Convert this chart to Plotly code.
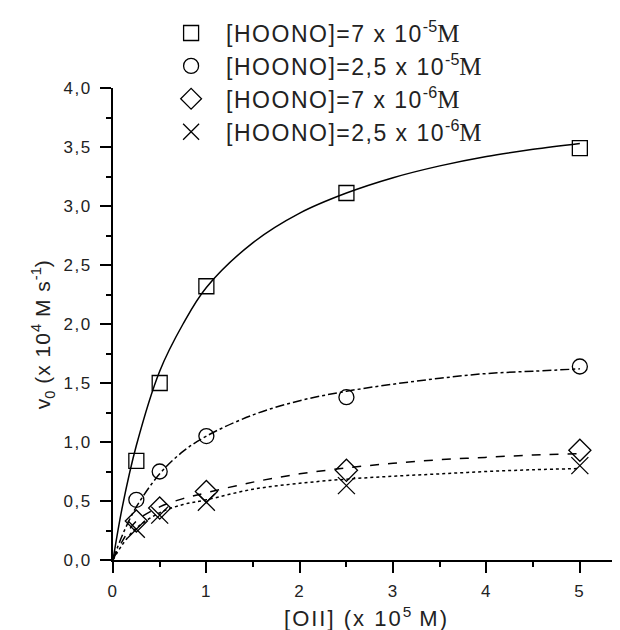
import plotly.graph_objects as go

# measured data points
x_pts = [0.25, 0.5, 1.0, 2.5, 5.0]
v_sq = [0.84, 1.50, 2.32, 3.11, 3.49]      # [HOONO]=7e-5 M
v_ci = [0.51, 0.75, 1.05, 1.38, 1.64]      # [HOONO]=2.5e-5 M
v_di = [0.33, 0.44, 0.58, 0.76, 0.93]      # [HOONO]=7e-6 M
v_x = [0.26, 0.38, 0.49, 0.63, 0.80]       # [HOONO]=2.5e-6 M

# fitted curves, values
x_fit = [0, 0.1, 0.25, 0.5, 0.75, 1.0, 1.5, 2.0, 2.5, 3.0, 3.5, 4.0, 4.5, 5.0]
fit_sq = [0, 0.45, 0.97, 1.60, 2.00, 2.31, 2.69, 2.94, 3.11, 3.24, 3.34, 3.42, 3.48, 3.53]
fit_ci = [0, 0.21, 0.45, 0.73, 0.92, 1.05, 1.23, 1.35, 1.43, 1.49, 1.54, 1.58, 1.60, 1.62]
fit_di = [0, 0.16, 0.33, 0.45, 0.52, 0.57, 0.66, 0.73, 0.78, 0.82, 0.85, 0.87, 0.89, 0.90]
fit_x = [0, 0.13, 0.27, 0.40, 0.47, 0.51, 0.60, 0.65, 0.685, 0.71, 0.73, 0.75, 0.765, 0.775]

x_ticks = [0, 1, 2, 3, 4, 5]
x_ticklabels = ["0", "1", "2", "3", "4", "5"]
y_ticks = [0, 0.5, 1, 1.5, 2, 2.5, 3, 3.5, 4]
y_ticklabels = ["0,0", "0,5", "1,0", "1,5", "2,0", "2,5", "3,0", "3,5", "4,0"]


def sp(t, px):
    return "<span style='letter-spacing:%spx'>%s</span>" % (px, t)


M = "<span style='font-family:Liberation Serif;font-size:25px'>M</span>"
names = [
    sp("[HOONO]=7 x 10", 1.5) + "<sup>-5</sup>" + M,
    sp("[HOONO]=2,5 x 10", 1.5) + "<sup>-5</sup>" + M,
    sp("[HOONO]=7 x 10", 1.5) + "<sup>-6</sup>" + M,
    sp("[HOONO]=2,5 x 10", 1.5) + "<sup>-6</sup>" + M,
]
symbols = ["square-open", "circle-open", "diamond-open", "x-thin-open"]
sizes = [15, 15, 17, 17]
dashes = ["solid", "dashdot", "dash", "dot"]
pts = [v_sq, v_ci, v_di, v_x]
fits = [fit_sq, fit_ci, fit_di, fit_x]

fig = go.Figure()
for f, d in zip(fits, dashes):
    fig.add_trace(go.Scatter(x=x_fit, y=f, mode="lines", line_shape="spline",
                             line=dict(color="black", width=1.5, dash=d),
                             showlegend=False, hoverinfo="skip"))
for p, s, sz, n in zip(pts, symbols, sizes, names):
    fig.add_trace(go.Scatter(x=x_pts, y=p, mode="markers", name=n,
                             marker=dict(symbol=s, size=sz, color="black",
                                         line=dict(color="black", width=1.3))))

axis_common = dict(showline=True, linecolor="black", linewidth=2, ticks="outside",
                   tickcolor="black", tickwidth=2, ticklen=11, showgrid=False,
                   zeroline=False, mirror=False, automargin=False,
                   tickfont=dict(family="Liberation Sans", size=17, color="#222"))

fig.update_xaxes(range=[0, 5.43], tickvals=x_ticks,
                 ticktext=[sp(t, 1.5) for t in x_ticklabels],
                 ticklabelstandoff=4,
                 minor=dict(tickvals=[0.5, 1.5, 2.5, 3.5, 4.5], ticklen=5, tickwidth=2,
                            tickcolor="black", ticks="outside"),
                 title=dict(text=sp("[OII] (x 10", 2) + "<sup>5</sup>" + sp(" M)", 2),
                            standoff=10,
                            font=dict(family="Liberation Sans", size=22, color="#222")),
                 **axis_common)
fig.update_yaxes(range=[0, 4.0], tickvals=y_ticks,
                 ticktext=[sp(t, 1.5) for t in y_ticklabels],
                 ticklabelstandoff=5,
                 minor=dict(tickvals=[0.25, 0.75, 1.25, 1.75, 2.25, 2.75, 3.25, 3.75],
                            ticklen=5, tickwidth=2, tickcolor="black", ticks="outside"),
                 title=dict(text="v<sub>0</sub>" + sp(" (x 10", 1) + "<sup>4</sup>"
                                 + sp(" M s", 1) + "<sup>-1</sup>" + sp(")\u00a0\u00a0\u00a0", 1),
                            standoff=7,
                            font=dict(family="Liberation Sans", size=21, color="#222")),
                 **axis_common)

fig.update_layout(
    width=620, height=630,
    margin=dict(l=105, r=8, t=80, b=78, autoexpand=False),
    plot_bgcolor="white", paper_bgcolor="white",
    legend=dict(x=0.085, y=1.162, xanchor="left", yanchor="top", itemwidth=60,
                bgcolor="rgba(0,0,0,0)", tracegroupgap=0,
                font=dict(family="Liberation Sans", size=23, color="#222")),
)

fig.write_html("out.html")
